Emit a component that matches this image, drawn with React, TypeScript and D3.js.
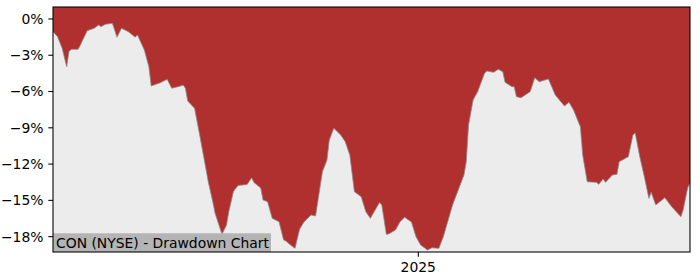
import React from "react";
import * as d3 from "d3";

const dates: string[] = [
  "2024-07-25","2024-07-27","2024-07-29","2024-07-31","2024-08-01","2024-08-02","2024-08-05","2024-08-06","2024-08-07","2024-08-09",
  "2024-08-12","2024-08-14","2024-08-15","2024-08-17","2024-08-20","2024-08-21","2024-08-22","2024-08-24","2024-08-27","2024-08-30",
  "2024-08-31","2024-09-03","2024-09-05","2024-09-06","2024-09-10","2024-09-13","2024-09-15","2024-09-19","2024-09-20","2024-09-21",
  "2024-09-22","2024-09-25","2024-09-27","2024-09-29","2024-10-01","2024-10-03","2024-10-04","2024-10-07","2024-10-09","2024-10-10",
  "2024-10-12","2024-10-14","2024-10-18","2024-10-20","2024-10-21","2024-10-24","2024-10-25","2024-10-27","2024-10-29","2024-11-01",
  "2024-11-03","2024-11-04","2024-11-06","2024-11-08","2024-11-10","2024-11-12","2024-11-15","2024-11-17","2024-11-20","2024-11-22",
  "2024-11-23","2024-11-25","2024-11-28","2024-11-30","2024-12-02","2024-12-04","2024-12-07","2024-12-09","2024-12-11","2024-12-15",
  "2024-12-16","2024-12-18","2024-12-19","2024-12-22","2024-12-24","2024-12-26","2024-12-29","2024-12-31","2025-01-02","2025-01-05",
  "2025-01-07","2025-01-10","2025-01-12","2025-01-16","2025-01-21","2025-01-22","2025-01-23","2025-01-25","2025-01-27","2025-01-30",
  "2025-01-31","2025-02-03","2025-02-05","2025-02-07","2025-02-08","2025-02-11","2025-02-12","2025-02-13","2025-02-15","2025-02-19",
  "2025-02-21","2025-02-23","2025-02-27","2025-03-02","2025-03-06","2025-03-08","2025-03-10","2025-03-13","2025-03-14","2025-03-16",
  "2025-03-20","2025-03-21","2025-03-23","2025-03-24","2025-03-27","2025-03-29","2025-03-30","2025-04-03","2025-04-05","2025-04-06",
  "2025-04-08","2025-04-10","2025-04-12","2025-04-13","2025-04-15","2025-04-19","2025-04-22","2025-04-26","2025-04-27","2025-04-29",
  "2025-04-30",
];

const drawdown: number[] = [
  -1.05,-1.46,-2.42,-3.95,-2.70,-2.51,-2.51,-2.15,-1.74,-0.97,
  -0.77,-0.50,-0.64,-0.44,-0.36,-0.91,-1.51,-0.77,-1.05,-1.51,
  -1.32,-2.56,-3.95,-5.54,-5.27,-4.99,-5.73,-5.54,-5.46,-5.73,
  -6.78,-7.39,-9.35,-11.39,-13.46,-15.14,-16.07,-17.81,-17.04,-15.94,
  -14.28,-13.77,-13.69,-13.13,-13.52,-13.98,-14.97,-15.11,-16.48,-16.77,
  -18.28,-18.36,-18.69,-18.97,-17.39,-16.77,-16.21,-16.29,-12.63,-11.66,
  -10.01,-9.04,-9.59,-10.15,-11.25,-14.28,-14.70,-15.94,-16.48,-15.18,
  -15.38,-17.81,-17.78,-17.45,-16.77,-16.40,-16.79,-18.01,-18.69,-19.11,
  -18.92,-18.97,-17.99,-15.38,-12.90,-11.80,-8.77,-6.70,-6.01,-4.49,
  -4.30,-4.41,-4.16,-4.36,-5.24,-5.60,-5.60,-6.43,-6.51,-6.01,
  -4.86,-5.19,-4.96,-6.29,-7.20,-6.89,-7.53,-8.93,-11.25,-13.46,
  -13.51,-13.67,-13.23,-13.51,-12.90,-12.85,-11.80,-11.39,-9.59,-9.43,
  -11.39,-13.04,-14.83,-14.33,-15.38,-14.78,-15.53,-16.35,-15.80,-13.95,
  -13.56,
];

const yTicks: number[] = [0, -3, -6, -9, -12, -15, -18];
const xTickDates: string[] = ["2025-01-01"];
const xTickLabels: string[] = ["2025"];
const title = "CON (NYSE) - Drawdown Chart";

const W = 700, H = 280;
const L = 53, R = 690, T = 7, B = 252;
const FONT = "'DejaVu Sans', sans-serif";

export default function App() {
  const parse = d3.utcParse("%Y-%m-%d");
  const data = dates.map((d, i) => ({ date: parse(d) as Date, v: drawdown[i] }));
  const x = d3.scaleUtc()
    .domain(d3.extent(data, (d) => d.date) as [Date, Date])
    .range([L, R]);
  const y = d3.scaleLinear().domain([-19.27, 0.99]).range([B, T]);

  const area = d3.area<{ date: Date; v: number }>()
    .x((d) => x(d.date))
    .y0(B)
    .y1((d) => y(d.v));
  const line = d3.line<{ date: Date; v: number }>()
    .x((d) => x(d.date))
    .y((d) => y(d.v));

  const fmt = (v: number) => (v < 0 ? "\u2212" + Math.abs(v) : String(v)) + "%";

  return (
    <svg width={W} height={H} style={{ position: "absolute", left: 0, top: 0, background: "#fff" }}
      fontFamily={FONT}>
      <rect x={L} y={T} width={R - L} height={B - T} fill="#b03030" />
      <path d={area(data) || ""} fill="#ececec" />
      <path d={line(data) || ""} fill="none" stroke="#8c8c8c" strokeWidth={0.8} />
      <rect x={L} y={233.3} width={218} height={B - 233.3} fill="#b4b4b4" />
      <text x={56} y={247.5} fontSize={13.9} fill="#000">{title}</text>
      <rect x={L} y={T} width={R - L} height={B - T} fill="none" stroke="#000" strokeWidth={1.07} />
      {yTicks.map((t) => (
        <g key={t}>
          <line x1={L - 4.7} x2={L} y1={y(t)} y2={y(t)} stroke="#000" strokeWidth={1.07} />
          <text x={L - 9.5} y={y(t)} dy="0.35em" textAnchor="end" fontSize={13.9} fill="#000">{fmt(t)}</text>
        </g>
      ))}
      {xTickDates.map((d, i) => {
        const xx = x(parse(d) as Date);
        return (
          <g key={d}>
            <line x1={xx} x2={xx} y1={B} y2={B + 4.7} stroke="#000" strokeWidth={1.07} />
            <text x={xx} y={B + 9.5} dy="0.76em" textAnchor="middle" fontSize={13.9} fill="#000">{xTickLabels[i]}</text>
          </g>
        );
      })}
    </svg>
  );
}
